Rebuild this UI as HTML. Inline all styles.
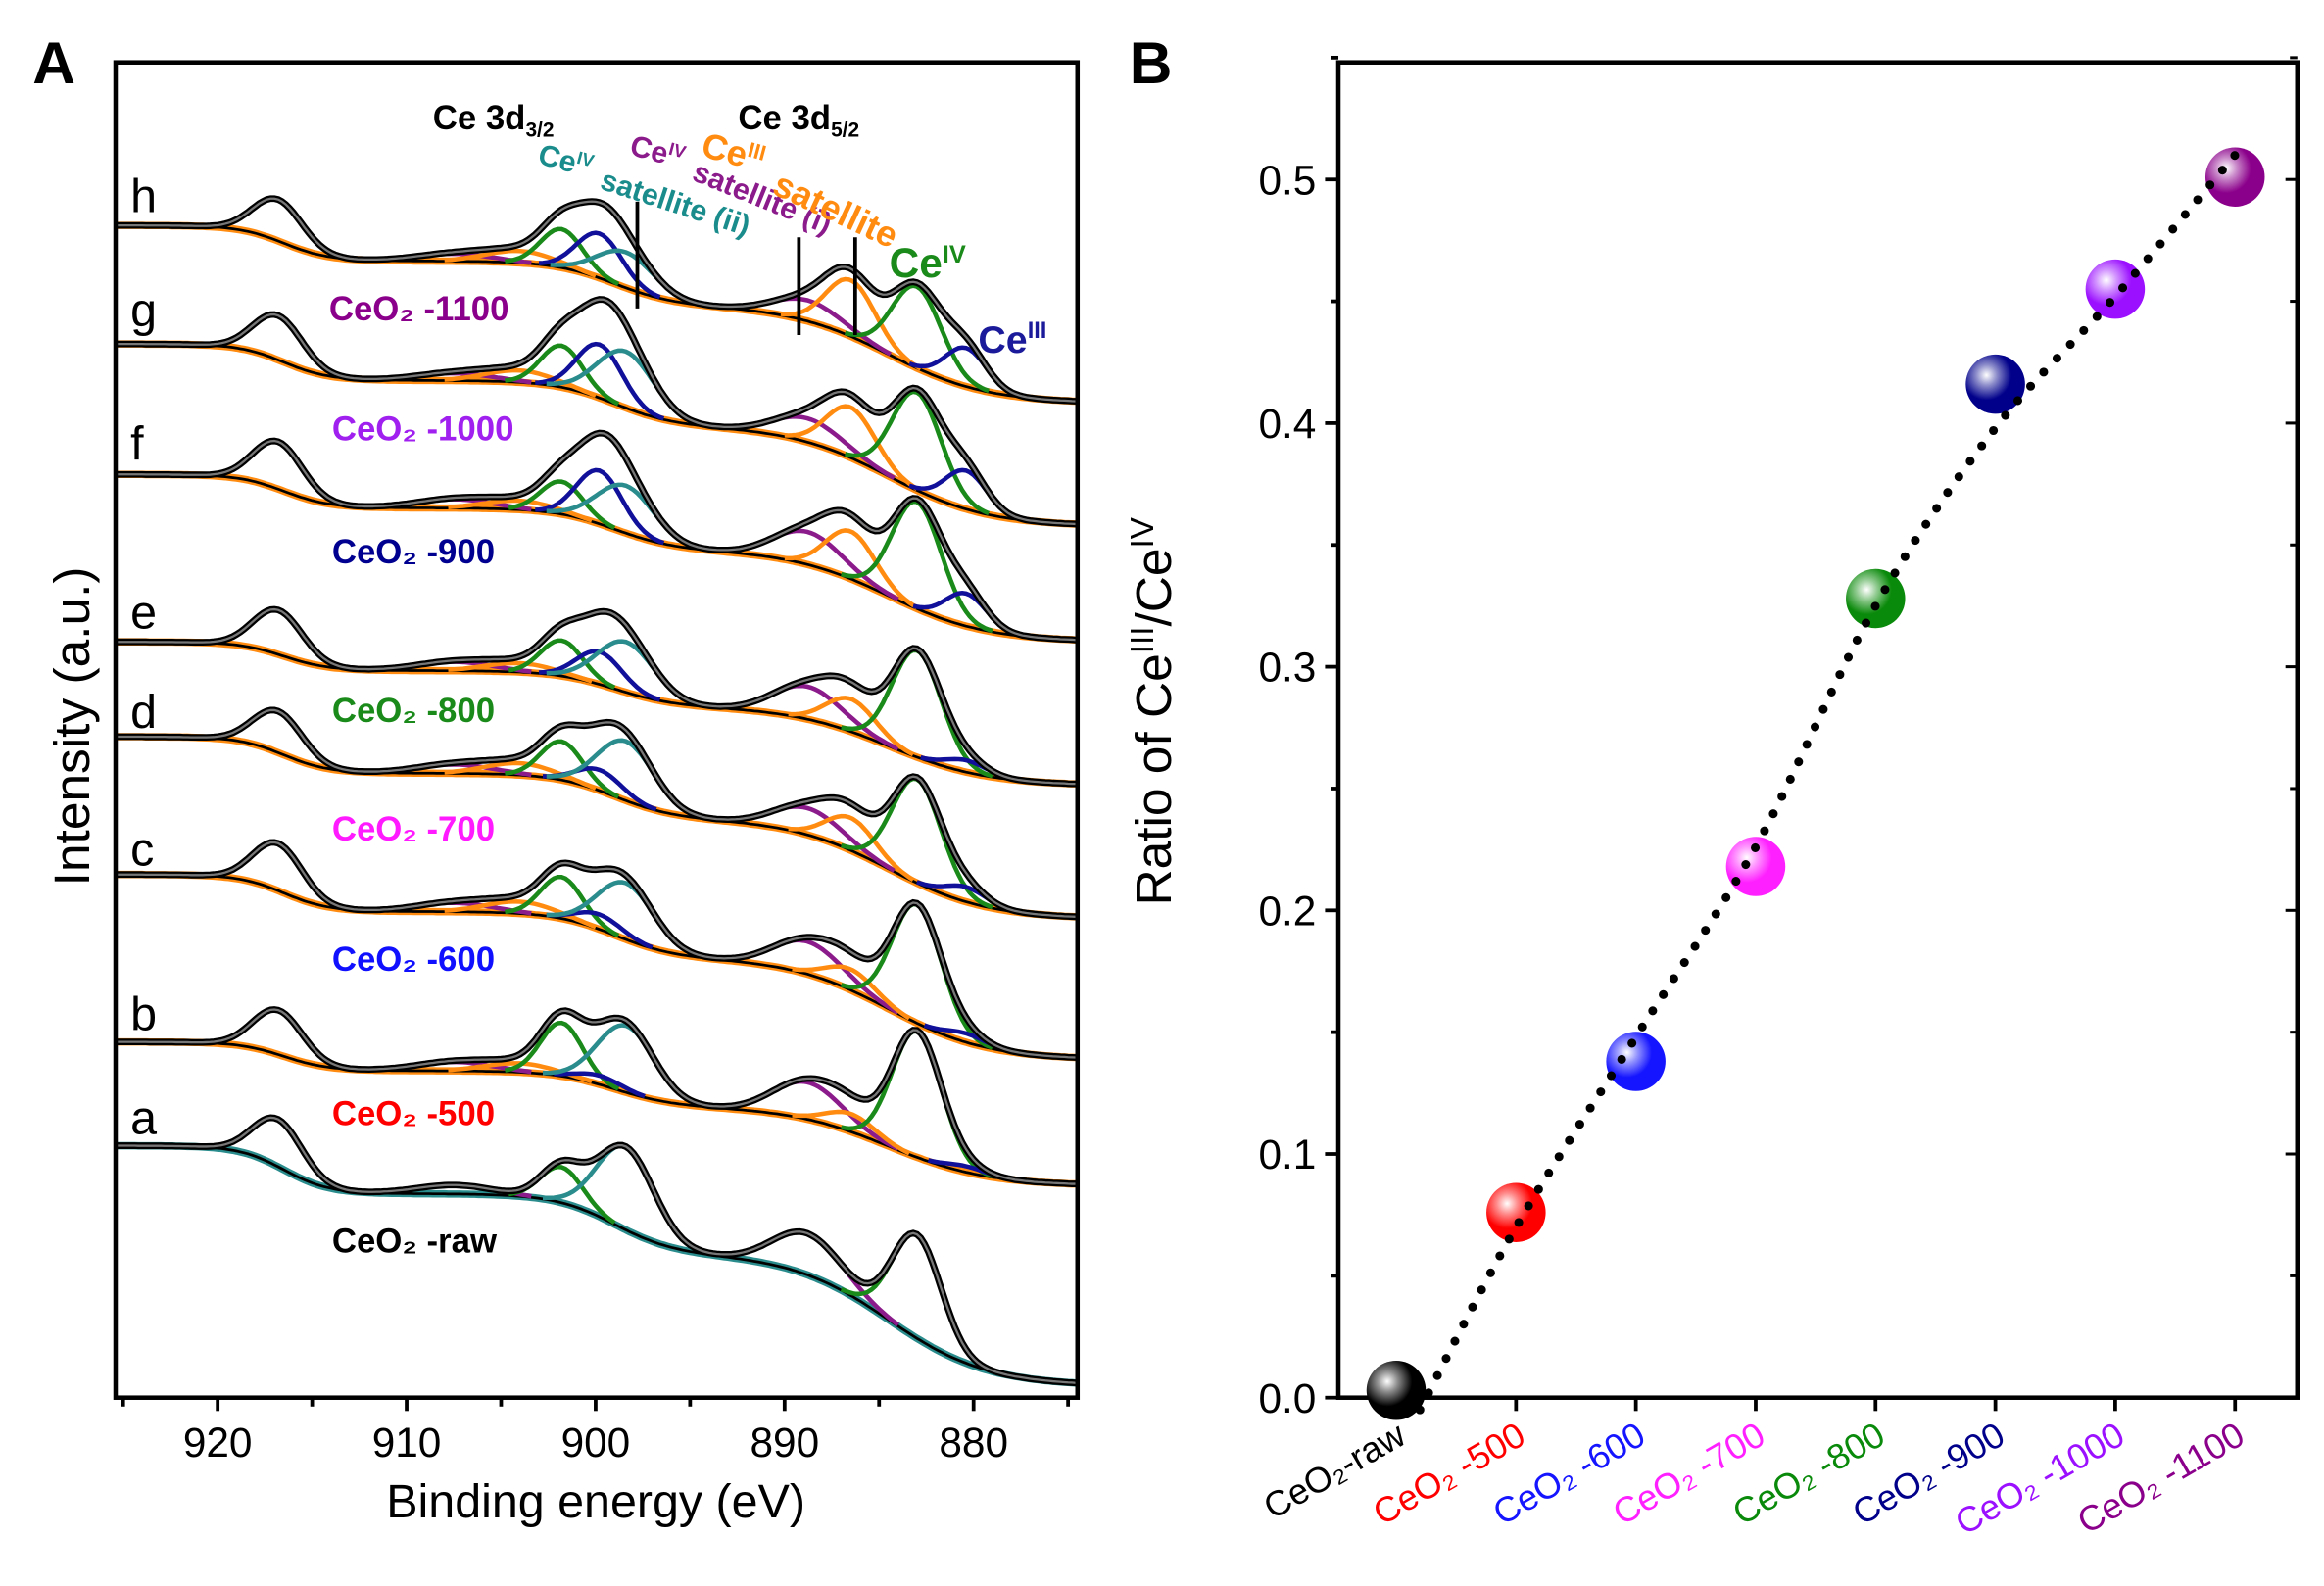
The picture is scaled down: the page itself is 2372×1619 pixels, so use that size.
<!DOCTYPE html>
<html><head><meta charset="utf-8"><style>
html,body{margin:0;padding:0;background:#fff;}
svg{display:block;}
text{font-family:"Liberation Sans",Arial,sans-serif;}
</style></head><body>
<svg id="fig" width="2372" height="1619" viewBox="0 0 1568 1070" xmlns="http://www.w3.org/2000/svg">
<defs>
<radialGradient id="sph" cx="0.35" cy="0.35" r="0.7"><stop offset="0" stop-color="#fff" stop-opacity="1"/><stop offset="0.25" stop-color="#fff" stop-opacity="0.55"/><stop offset="0.6" stop-color="#fff" stop-opacity="0"/></radialGradient>
</defs>
<g id="panelA"></g>
<g id="panelB"></g>
</svg>
<script>
// ---------- Panel A data ----------
const sampleNames = ["CeO\u2082 -raw","CeO\u2082 -500","CeO\u2082 -600","CeO\u2082 -700","CeO\u2082 -800","CeO\u2082 -900","CeO\u2082 -1000","CeO\u2082 -1100"];
const sampleLetters = ["a","b","c","d","e","f","g","h"];
const sampleColors = ["#000","#f00","#1010ff","#ff1aff","#1a8a1a","#000090","#a020f0","#8b008b"];
const baseLeft = [773,703,590,497,433,320,232,152];
const baseRight = [935,800,715,620,530,433,355,272];
const peakCenters = [916.8,907.5,904.0,901.8,899.8,898.4,888.8,886.5,883.0,880.4];
const peakSigmas = [1.3,2.0,1.8,1.1,1.2,1.5,1.8,1.3,1.3,1.1];
const peakColors = ["#2a8c8c","#8b1a8b","#ff8c10","#1a8a1a","#10109a","#2a8c8c","#8b1a8b","#ff8c10","#1a8a1a","#10109a"];
const hU3   = [32,30,32,28,30,32,30,28];
const hSatP = [6,6,6,6,6,6,5,5];
const hSatO = [0,6,8,8,6,6,8,8];
const hU    = [24,36,28,26,24,22,28,26];
const hU1   = [0,6,10,14,22,36,36,30];
const hU2   = [56,45,38,40,34,32,38,24];
const hV2   = [28,25,22,18,22,22,16,14];
const hV1   = [0,12,14,22,22,32,34,38];
const hV    = [70,85,80,70,72,72,66,55];
const hV0   = [0,4,6,10,8,22,26,26];
const peakHeights = [hU3,hSatP,hSatO,hU,hU1,hU2,hV2,hV1,hV,hV0];
const xTicksA = [920,910,900,890,880];

// ---------- Panel B data ----------
const categories = ["CeO\u2082-raw","CeO\u2082 -500","CeO\u2082 -600","CeO\u2082 -700","CeO\u2082 -800","CeO\u2082 -900","CeO\u2082 -1000","CeO\u2082 -1100"];
const ratioValues = [0.003,0.076,0.138,0.218,0.328,0.416,0.455,0.501];
const fitValues = [-0.005,0.07,0.148,0.226,0.325,0.398,0.452,0.51];
const catColors = ["#000","#ff0000","#1515ff","#ff20ff","#0a8a0a","#00008b","#9b10ff","#8b008b"];
const yTicksB = [0.0,0.1,0.2,0.3,0.4,0.5];

const NS="http://www.w3.org/2000/svg";
function mk(tag,attrs,parent){const e=document.createElementNS(NS,tag);for(const k in attrs)e.setAttribute(k,attrs[k]);parent.appendChild(e);return e;}

// ---------- Panel A ----------
const A=document.getElementById('panelA');
const AX0=78,AX1=727,AY0=42,AY1=943;
const E0=925.4,E1=874.5;
function xA(E){return AX0+(E0-E)/(E0-E1)*(AX1-AX0);}
function sig(z){return 1/(1+Math.exp(-z));}
function bgFrac(E){return 0.2*sig((E-916.5)/1.2)+0.25*sig((E-899)/1.6)+0.55*sig((E-884.5)/2.6);}
function gauss(E,c,s){return Math.exp(-0.5*((E-c)/s)**2);}

const Es=[];for(let E=E0;E>=E1-0.01;E-=0.2)Es.push(E);
const clip=mk('clipPath',{id:'clipA'},A);mk('rect',{x:AX0,y:AY0,width:AX1-AX0,height:AY1-AY0},clip);
const specG=mk('g',{'clip-path':'url(#clipA)'},A);
for(let s=7;s>=0;s--){
  const g=mk('g',{},specG);
  
  
  const base=E=>baseRight[s]+(baseLeft[s]-baseRight[s])*bgFrac(E);
  const bpts=Es.map(E=>xA(E).toFixed(1)+','+base(E).toFixed(1)).join(' ');
  mk('polyline',{points:bpts,fill:'none',stroke:(s===0?'#2a8c8c':'#ff8c10'),'stroke-width':5},g);
  const bl2=mk('polyline',{points:bpts,fill:'none',stroke:'#000','stroke-width':1.8},g);
  
  
  for(let p=0;p<peakCenters.length;p++){
    const h=peakHeights[p][s]; if(h<=0)continue;
    const sub=Es.filter(E=>h*gauss(E,peakCenters[p],peakSigmas[p])>0.6);
    const pts=sub.map(E=>xA(E).toFixed(1)+','+(base(E)-h*gauss(E,peakCenters[p],peakSigmas[p])).toFixed(1)).join(' ');
    const pl=mk('polyline',{points:pts,fill:'none',stroke:peakColors[p],'stroke-width':3},g);
    
    
  }
  const env=E=>{let t=0;for(let p=0;p<peakCenters.length;p++)t+=peakHeights[p][s]*gauss(E,peakCenters[p],peakSigmas[p]);return base(E)-t;};
  const epts=Es.map(E=>xA(E).toFixed(1)+','+env(E).toFixed(1)).join(' ');
  const e1=mk('polyline',{points:epts,fill:'none',stroke:'#000','stroke-width':4.5},g);
  
  
  mk('polyline',{points:epts,fill:'none',stroke:'#777','stroke-width':1.5},g);
}
// frame
const fa=mk('rect',{x:AX0,y:AY0,width:AX1-AX0,height:AY1-AY0,fill:'none',stroke:'#000','stroke-width':3},A);

for(let E=925;E>=875;E-=5){
  const major=(E%10===0);
  mk('line',{x1:xA(E),x2:xA(E),y1:AY1,y2:AY1+(major?9:6),stroke:'#000','stroke-width':2.5},A);
}
xTicksA.forEach(v=>{
  const t=mk('text',{x:xA(v),y:AY1+40,'font-size':28,'text-anchor':'middle'},A);t.textContent=v;
  
});
let t=mk('text',{x:402,y:1024,'font-size':32,'text-anchor':'middle'},A);t.textContent='Binding energy (eV)';

t=mk('text',{x:0,y:0,'font-size':34,'text-anchor':'middle',transform:'translate(60,490) rotate(-90)'},A);t.textContent='Intensity (a.u.)';

t=mk('text',{x:22,y:56,'font-size':40,'font-weight':'bold'},A);t.textContent='A';

const letterY=[765,695,584,491,424,310,220,143];
const nameY=[845,759,655,567,487,380,297,216];
const nameX=[224,224,224,224,224,224,224,222];
for(let s=0;s<8;s++){
  t=mk('text',{x:88,y:letterY[s],'font-size':32},A);t.textContent=sampleLetters[s];
  
  t=mk('text',{x:nameX[s],y:nameY[s],'font-size':23,'font-weight':'bold',fill:sampleColors[s]},A);
  t.textContent=sampleNames[s];
  
}
function rich(x,y,size,color,parts,rot,name){
  const tx=mk('text',{x:x,y:y,'font-size':size,'font-weight':'bold',fill:color},A);
  if(rot)tx.setAttribute('transform','rotate('+rot+' '+x+' '+y+')');
  parts.forEach(p=>{const ts=mk('tspan',{},tx);ts.textContent=p[0];if(p[1]){ts.setAttribute('font-size',size*0.6);ts.setAttribute('dy',p[1]);}});
  
}
rich(292,87,23,'#000',[['Ce 3d'],['3/2',5]],0,'ce-3d32-label');
rich(498,87,23,'#000',[['Ce 3d'],['5/2',5]],0,'ce-3d52-label');
rich(362,110,20,'#1a8c8c',[['Ce'],['IV',-7]],15,'ce-iv-sat-ii-label-1');
rich(404,127,20,'#1a8c8c',[['satellite (ii)']],18,'ce-iv-sat-ii-label-2');
rich(424,104,20,'#8b1a8b',[['Ce'],['IV',-7]],15,'ce-iv-sat-i-label-1');
rich(466,121,20,'#8b1a8b',[['satellite (i)']],22,'ce-iv-sat-i-label-2');
rich(472,105,24,'#ff8c10',[['Ce'],['III',-8]],15,'ce-iii-sat-label-1');
rich(520,130,24,'#ff8c10',[['satellite']],25,'ce-iii-sat-label-2');
rich(600,187,28,'#1a8a1a',[['Ce'],['IV',-10]],0,'ce-iv-label');
rich(660,238,26,'#1a1a9a',[['Ce'],['III',-10]],0,'ce-iii-label');
[[430,136,208],[539,160,226],[577,160,226]].forEach(l=>{
  const ln=mk('line',{x1:l[0],x2:l[0],y1:l[1],y2:l[2],stroke:'#000','stroke-width':2.5},A);
  
});

// ---------- Panel B ----------
const B=document.getElementById('panelB');
const BX0=903,BX1=1550,BY0=42,BY1=943;
function xB(i){return 942+i*(1508-942)/7;}
function yB(v){return 943-v*(943-121)/0.5;}
const fb=mk('rect',{x:BX0,y:BY0,width:BX1-BX0,height:BY1-BY0,fill:'none',stroke:'#000','stroke-width':3},B);

for(let k=0;k<=11;k++){
  const v=k*0.05,y=yB(v),major=(k%2===0);
  mk('line',{x1:BX0-(major?9:5),x2:BX0,y1:y,y2:y,stroke:'#000','stroke-width':2.5},B);
  mk('line',{x1:BX1-(major?8:5),x2:BX1,y1:y,y2:y,stroke:'#000','stroke-width':2},B);
}
yTicksB.forEach(v=>{
  const tt=mk('text',{x:888,y:yB(v)+10,'font-size':28,'text-anchor':'end'},B);tt.textContent=v.toFixed(1);
  
});
categories.forEach((c,i)=>{
  mk('line',{x1:xB(i),x2:xB(i),y1:BY1,y2:BY1+9,stroke:'#000','stroke-width':2.5},B);
  const x=xB(i)+8,y=BY1+30;
  const tt=mk('text',{x:x,y:y,'font-size':24,'text-anchor':'end',fill:catColors[i],transform:'rotate(-30 '+x+' '+y+')'},B);
  tt.textContent=c;
  
});
t=mk('text',{x:0,y:0,'font-size':34,'text-anchor':'middle',transform:'translate(790,480) rotate(-90)'},B);

let ts=mk('tspan',{},t);ts.textContent='Ratio of Ce';
ts=mk('tspan',{'font-size':22,dy:-12},t);ts.textContent='III';
ts=mk('tspan',{'font-size':34,dy:12},t);ts.textContent='/Ce';
ts=mk('tspan',{'font-size':22,dy:-12},t);ts.textContent='IV';
t=mk('text',{x:762,y:56,'font-size':40,'font-weight':'bold'},B);t.textContent='B';

ratioValues.forEach((v,i)=>{
  const g=mk('g',{},B);
  
  mk('circle',{cx:xB(i),cy:yB(v),r:20,fill:catColors[i]},g);
  mk('circle',{cx:xB(i),cy:yB(v),r:20,fill:'url(#sph)'},g);
});
const fp=fitValues.map((v,i)=>[xB(i)+(i===0?16:0),yB(v)]);
let d='M'+fp[0][0]+','+fp[0][1];
for(let i=0;i<fp.length-1;i++){
  const p0=fp[Math.max(0,i-1)],p1=fp[i],p2=fp[i+1],p3=fp[Math.min(fp.length-1,i+2)];
  d+=' C'+(p1[0]+(p2[0]-p0[0])/6)+','+(p1[1]+(p2[1]-p0[1])/6)+' '+(p2[0]-(p3[0]-p1[0])/6)+','+(p2[1]-(p3[1]-p1[1])/6)+' '+p2[0]+','+p2[1];
}
const fit=mk('path',{d:d,fill:'none',stroke:'#000','stroke-width':6,'stroke-linecap':'round','stroke-dasharray':'0 13'},B);

</script>
</body></html>
